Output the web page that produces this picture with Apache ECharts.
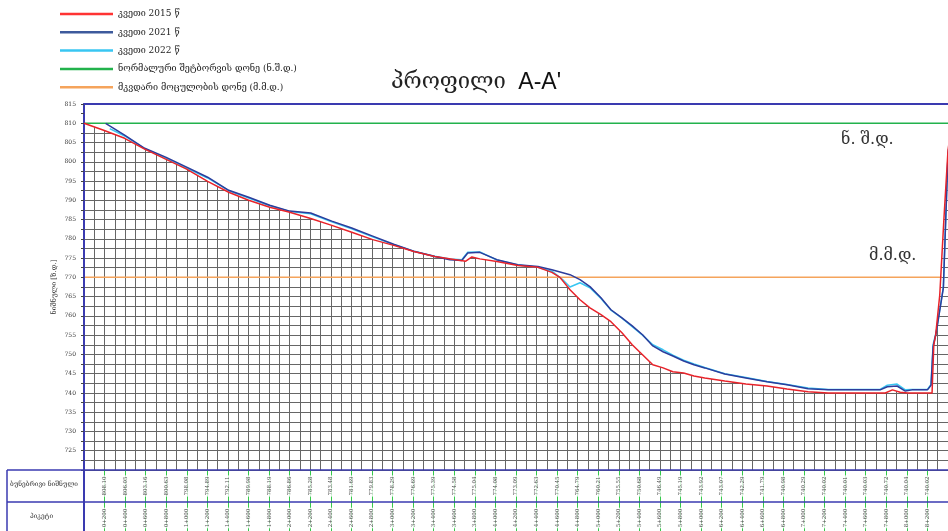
<!DOCTYPE html>
<html><head><meta charset="utf-8">
<script src="https://cdn.jsdelivr.net/npm/echarts@6/dist/echarts.min.js"></script>
<style>html,body{margin:0;padding:0;background:#fff}#c{width:948px;height:531px}</style>
</head><body><div id="c"></div>
<script>
// ---- DATA ----
const dist2015 = [0,191,395,590,794,998,1202,1407,1601,1806,2000,2204,2409,2603,2807,3011,3206,3410,3614,3712,3771,3848,4014,4218,4413,4549,4627,4725,4822,4919,5026,5123,5230,5330,5430,5530,5630,5725,5830,5930,6035,6230,6435,6640,6835,7040,7235,7790,7860,7935,8010,8245,8262,8280,8320,8360,8400,8470];
const elev2015 = [810.0,808.2,806.1,803.3,800.7,798.1,794.9,792.1,790.0,788.2,786.9,785.3,783.5,781.7,779.8,778.3,776.7,775.4,774.6,774.2,775.3,774.8,774.1,773.1,772.6,771.3,770.0,766.8,764.2,762.1,760.3,758.5,755.6,752.5,749.9,747.3,746.5,745.5,745.2,744.4,743.9,743.1,742.3,741.8,741.0,740.3,740.0,740.0,740.8,740.2,740.0,740.0,752.5,755.0,765.5,785.0,803.0,816.0];

const dist2021 = [210,395,590,794,998,1202,1407,1601,1806,2000,2204,2409,2603,2807,3011,3206,3410,3556,3673,3731,3848,4014,4218,4413,4549,4725,4822,4919,5026,5123,5230,5330,5430,5530,5630,5725,5830,5930,6035,6230,6435,6640,6835,7040,7235,7740,7810,7905,7985,8050,8200,8235,8255,8285,8355,8400,8470];
const elev2021 = [810.0,806.9,803.5,801.2,798.6,796.0,792.6,790.8,788.7,787.2,786.7,784.6,782.8,780.7,778.6,776.8,775.4,774.6,774.4,776.3,776.5,774.6,773.3,772.8,772.0,770.7,769.4,767.6,764.7,761.6,759.5,757.4,755.1,752.2,750.7,749.6,748.3,747.3,746.5,744.9,743.9,742.9,742.1,741.1,740.8,740.8,741.6,741.8,740.5,740.8,740.8,742.0,752.0,755.6,767.3,802.0,816.0];

const dist2022 = [250,395,590,794,998,1202,1407,1601,1806,2000,2204,2409,2603,2807,3011,3206,3410,3556,3673,3731,3848,4014,4218,4413,4549,4650,4725,4822,4919,5026,5123,5230,5330,5430,5530,5630,5725,5830,5930,6035,6230,6435,6640,6835,7040,7235,7740,7810,7905,7985,8050,8200,8235,8255,8285,8355,8400,8470];
const elev2022 = [808.6,806.7,803.4,801.0,798.4,795.8,792.5,790.6,788.6,787.1,786.5,784.4,782.6,780.5,778.5,776.8,775.5,774.8,774.6,776.5,776.6,774.5,773.2,772.6,771.6,769.5,767.5,768.6,767.3,764.5,761.5,759.4,757.2,755.0,752.5,751.2,749.8,748.5,747.5,746.6,745.0,744.0,743.0,742.2,741.3,740.9,740.9,742.0,742.3,740.8,740.9,740.9,742.2,752.5,755.8,767.5,802.0,816.0];

const nshdLevel = 810;   // ნ.შ.დ.
const mmdLevel = 770;    // მ.მ.დ.
const nshdRange = [0, 8400];
const mmdRange = [0, 8340];

const tableDist = [200,400,600,800,1000,1200,1400,1600,1800,2000,2200,2400,2600,2800,3000,3200,3400,3600,3800,4000,4200,4400,4600,4800,5000,5200,5400,5600,5800,6000,6200,6400,6600,6800,7000,7200,7400,7600,7800,8000,8200];
const naturalMarks = ['808.10','806.05','803.16','800.63','798.08','794.89','792.11','789.98','788.19','786.86','785.28','783.48','781.69','779.83','778.29','776.69','775.39','774.58','775.04','774.08','773.09','772.63','770.45','764.79','760.21','755.55','750.68','746.49','745.19','743.92','743.07','742.29','741.79','740.98','740.29','740.02','740.01','740.03','740.72','740.04','740.02'];
const piketLabels = ['0+200','0+400','0+600','0+800','1+000','1+200','1+400','1+600','1+800','2+000','2+200','2+400','2+600','2+800','3+000','3+200','3+400','3+600','3+800','4+000','4+200','4+400','4+600','4+800','5+000','5+200','5+400','5+600','5+800','6+000','6+200','6+400','6+600','6+800','7+000','7+200','7+400','7+600','7+800','8+000','8+200'];

const legendNames = ['კვეთი 2015 წ','კვეთი 2021 წ','კვეთი 2022 წ','ნორმალური შეტბორვის დონე (ნ.შ.დ.)','მკვდარი მოცულობის დონე (მ.მ.დ.)'];
// ---- END DATA ----

const zip = (a, b) => a.map((v, i) => [v, b[i]]);
const F = 'DejaVu Serif';
const BLUE = '#3a3ab0';
const XMAX = 8400;

const tableLabel = {
  show: true, position: 'inside', rotate: 90, formatter: p => p.value[2],
  fontFamily: F, fontSize: 5.5, color: '#222', backgroundColor: '#fff', padding: [0, 1]
};

const chart = echarts.init(document.getElementById('c'));
chart.setOption({
  animation: false,
  backgroundColor: '#fff',
  textStyle: { fontFamily: F },
  title: {
    left: 391, top: 71, padding: 0,
    text: '{g|პროფილი}  {a|A-A\'}',
    textStyle: { rich: {
      g: { fontFamily: F, fontSize: 22, fontWeight: 'normal', color: '#222' },
      a: { fontFamily: 'Liberation Sans', fontSize: 23, fontWeight: 'normal', color: '#111' }
    } }
  },
  legend: {
    orient: 'vertical', left: 60, top: 8, padding: 0,
    itemWidth: 53, itemHeight: 2.5, itemGap: 6.3, icon: 'rect',
    data: legendNames,
    textStyle: { fontFamily: F, fontSize: 9, color: '#222', lineHeight: 12 }
  },
  grid: [
    { left: 84, right: 0, top: 104, height: 366, outerBoundsMode: 'none', containLabel: false },
    { left: 84, right: 0, top: 470, height: 64, outerBoundsMode: 'none', containLabel: false }
  ],
  xAxis: [
    { type: 'value', gridIndex: 0, min: 0, max: XMAX, interval: 100, z: 0, position: 'bottom',
      axisLine: { show: false }, axisTick: { show: false }, axisLabel: { show: false },
      splitLine: { show: true, lineStyle: { color: '#666', width: 1 } } },
    { type: 'value', gridIndex: 0, min: 0, max: XMAX, position: 'top', z: 5,
      axisLine: { show: true, lineStyle: { color: BLUE, width: 2 } },
      axisTick: { show: false }, axisLabel: { show: false }, splitLine: { show: false } },
    { type: 'value', gridIndex: 1, min: 0, max: XMAX, interval: 200, z: 0, position: 'bottom',
      axisLine: { show: false }, axisTick: { show: false }, axisLabel: { show: false },
      splitLine: { show: true, lineStyle: { color: '#35c94a', width: 1 } } }
  ],
  yAxis: [
    { type: 'value', gridIndex: 0, min: 720, max: 815, interval: 2.5, z: 0, position: 'left',
      axisLine: { show: false }, axisTick: { show: false }, axisLabel: { show: false },
      splitLine: { show: true, lineStyle: { color: '#666', width: 1 } } },
    { type: 'value', gridIndex: 0, min: 720, max: 815, interval: 2.5, z: 5, position: 'left', offset: 0,
      name: 'ნიშნული [ზ.დ.]', nameLocation: 'middle', nameGap: 26, nameRotate: 90, nameMoveOverlap: false,
      nameTextStyle: { fontFamily: F, fontSize: 7, color: '#333' },
      axisLine: { show: true, onZero: false, lineStyle: { color: BLUE, width: 2 } },
      axisTick: { show: true, length: 3, lineStyle: { color: '#444' } },
      axisLabel: { fontFamily: F, fontSize: 6, color: '#333', margin: 8,
        formatter: v => (v % 5 === 0 && v > 720) ? String(v) : '' },
      splitLine: { show: false } },
    { type: 'value', gridIndex: 1, min: 0, max: 2, interval: 1, inverse: true, z: 3, position: 'left',
      axisLine: { show: true, onZero: false, lineStyle: { color: BLUE, width: 2 } },
      axisTick: { show: false }, axisLabel: { show: false },
      splitLine: { show: true, lineStyle: { color: BLUE, width: 1.5 } } }
  ],
  graphic: [
    { type: 'line', z: 100, shape: { x1: 7, y1: 470, x2: 84, y2: 470 }, style: { stroke: BLUE, lineWidth: 1.5 } },
    { type: 'line', z: 100, shape: { x1: 7, y1: 502, x2: 84, y2: 502 }, style: { stroke: BLUE, lineWidth: 1.5 } },
    { type: 'line', z: 100, shape: { x1: 7, y1: 470, x2: 7, y2: 531 }, style: { stroke: BLUE, lineWidth: 1.5 } },
    { type: 'text', z: 100, left: 10, top: 481, style: { text: 'ბუნებრივი ნიშნული', font: '6.5px "DejaVu Serif"', fill: '#333' } },
    { type: 'text', z: 100, left: 30, top: 513, style: { text: 'პიკეტი', font: '6.5px "DejaVu Serif"', fill: '#333' } },
    { type: 'text', z: 100, left: 841, top: 132, style: { text: 'ნ. შ.დ.', font: '16px "DejaVu Serif"', fill: '#333' } },
    { type: 'text', z: 100, left: 869, top: 248, style: { text: 'მ.მ.დ.', font: '16px "DejaVu Serif"', fill: '#333' } }
  ],
  series: [
    { name: 'mask', type: 'line', xAxisIndex: 0, yAxisIndex: 0, data: zip(dist2015, elev2015),
      symbol: 'none', silent: true, z: 1, lineStyle: { width: 0, opacity: 0 },
      areaStyle: { color: '#fff', opacity: 1, origin: 'end' } },
    { name: legendNames[3], type: 'line', xAxisIndex: 0, yAxisIndex: 0,
      data: [[nshdRange[0], nshdLevel], [nshdRange[1], nshdLevel]], symbol: 'none', z: 3,
      lineStyle: { color: '#22b24c', width: 1.5 }, itemStyle: { color: '#22b24c' } },
    { name: legendNames[4], type: 'line', xAxisIndex: 0, yAxisIndex: 0,
      data: [[mmdRange[0], mmdLevel], [mmdRange[1], mmdLevel]], symbol: 'none', z: 3,
      lineStyle: { color: '#f5a45c', width: 1.5 }, itemStyle: { color: '#f5a45c' } },
    { name: legendNames[2], type: 'line', xAxisIndex: 0, yAxisIndex: 0, data: zip(dist2022, elev2022),
      symbol: 'none', z: 4, lineStyle: { color: '#38c6f2', width: 1.5 }, itemStyle: { color: '#38c6f2' } },
    { name: legendNames[1], type: 'line', xAxisIndex: 0, yAxisIndex: 0, data: zip(dist2021, elev2021),
      symbol: 'none', z: 5, lineStyle: { color: '#2c3d9c', width: 1.5 }, itemStyle: { color: '#3d5a9c' } },
    { name: legendNames[0], type: 'line', xAxisIndex: 0, yAxisIndex: 0, data: zip(dist2015, elev2015),
      symbol: 'none', z: 6, lineStyle: { color: '#e8232a', width: 1.5 }, itemStyle: { color: '#ff3333' } },
    { name: 'natural', type: 'scatter', xAxisIndex: 2, yAxisIndex: 2, silent: true, z: 4,
      data: tableDist.map((d, i) => [d, 0.5, naturalMarks[i]]),
      symbolSize: 1, itemStyle: { color: 'rgba(0,0,0,0)' }, label: tableLabel },
    { name: 'piket', type: 'scatter', xAxisIndex: 2, yAxisIndex: 2, silent: true, z: 4,
      data: tableDist.map((d, i) => [d, 1.5, piketLabels[i]]),
      symbolSize: 1, itemStyle: { color: 'rgba(0,0,0,0)' }, label: tableLabel }
  ]
});
</script></body></html>
